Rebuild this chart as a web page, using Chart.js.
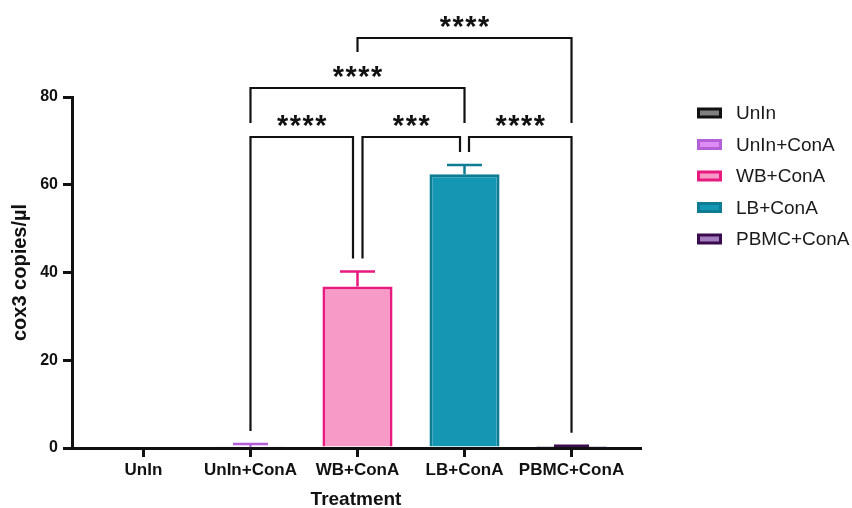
<!DOCTYPE html>
<html>
<head>
<meta charset="utf-8">
<script src="https://cdn.jsdelivr.net/npm/chart.js@4.4.0/dist/chart.umd.min.js"></script>
<style>
  html, body { margin: 0; padding: 0; background: #ffffff; }
  #wrap { width: 852px; height: 508px; }
</style>
</head>
<body>
<div id="wrap"><canvas id="c" width="852" height="508"></canvas></div>
<script>
// Treatment groups and cox3 copy numbers (mean and SD per group)
const categories = ['UnIn', 'UnIn+ConA', 'WB+ConA', 'LB+ConA', 'PBMC+ConA'];
const means = [0, 0.3, 36.8, 62.4, 0.2];
const sds = [0, 0.6, 3.4, 2.1, 0.3];
const yTickValues = [0, 20, 40, 60, 80];

// Pairwise significance (group indices and star labels)
const compareFrom = [1, 2, 3, 1, 2];
const compareTo = [2, 3, 4, 3, 4];
const compareStars = ['****', '***', '****', '****', '****'];

const fillColors = ['#808080', '#DC8CF4', '#F79AC7', '#1497B2', '#A47DBE'];
const borderColors = ['#111111', '#B45ED8', '#E8197F', '#0E7D93', '#3B0B50'];

const FONT = '"Liberation Sans", Arial, sans-serif';
const INK = '#111111';

// Upper error bars (mean + SD) drawn on top of each bar
const errorBars = {
  id: 'errorBars',
  afterDatasetsDraw(chart) {
    const ctx = chart.ctx;
    const ys = chart.scales.y;
    chart.data.datasets.forEach((ds, i) => {
      const bar = chart.getDatasetMeta(i).data[0];
      if (!bar || sds[i] <= 0) return;
      const top = ys.getPixelForValue(means[i]);
      const cap = ys.getPixelForValue(means[i] + sds[i]);
      ctx.save();
      ctx.strokeStyle = borderColors[i];
      ctx.lineWidth = 2.5;
      ctx.beginPath();
      ctx.moveTo(bar.x, top);
      ctx.lineTo(bar.x, cap);
      ctx.moveTo(bar.x - 17.5, cap);
      ctx.lineTo(bar.x + 17.5, cap);
      ctx.stroke();
      ctx.restore();
    });
  }
};

// Significance brackets above the bars
const brackets = {
  id: 'brackets',
  afterDraw(chart) {
    const ctx = chart.ctx;
    const xs = chart.scales.x, ys = chart.scales.y;
    const top = chart.chartArea.top;
    const levelY = [top + 40, top - 9, top - 59];
    const gap = 13;
    const capPx = i => ys.getPixelForValue(means[i] + sds[i]);
    // level, left inset, right inset, left leg end, right leg end
    const layout = [
      { level: 0, inL: 0, inR: -4.5, endL: capPx(1) - gap, endR: capPx(2) - gap },
      { level: 0, inL: 5, inR: -4.5, endL: capPx(2) - gap, endR: capPx(3) - gap },
      { level: 0, inL: 4.5, inR: 0, endL: capPx(3) - gap, endR: capPx(4) - gap },
      { level: 1, inL: 0, inR: 0, endL: levelY[0] - 14, endR: levelY[0] - 14 },
      { level: 2, inL: 0, inR: 0, endL: levelY[1] - 36, endR: levelY[0] - 14 }
    ];
    ctx.save();
    // size the asterisk so each glyph is about 11px wide
    ctx.font = 'bold 30px ' + FONT;
    const probe = ctx.measureText('*');
    const probeW = probe.actualBoundingBoxLeft + probe.actualBoundingBoxRight;
    const starSize = probeW > 0 ? 30 * 11.5 / probeW : 30;
    ctx.strokeStyle = INK;
    ctx.lineWidth = 2.2;
    ctx.lineCap = 'butt';
    layout.forEach((b, k) => {
      const x1 = xs.getPixelForValue(compareFrom[k]) + b.inL;
      const x2 = xs.getPixelForValue(compareTo[k]) + b.inR;
      const y = levelY[b.level];
      ctx.beginPath();
      ctx.moveTo(x1, b.endL);
      ctx.lineTo(x1, y);
      ctx.lineTo(x2, y);
      ctx.lineTo(x2, b.endR);
      ctx.stroke();
      // star label
      const stars = compareStars[k];
      ctx.fillStyle = INK;
      ctx.font = 'bold ' + starSize.toFixed(1) + 'px ' + FONT;
      ctx.textAlign = 'center';
      ctx.textBaseline = 'alphabetic';
      const m = ctx.measureText('*');
      const cy = y - 16;
      const base = cy + (m.actualBoundingBoxAscent - m.actualBoundingBoxDescent) / 2;
      const step = 12.8;
      const cx = (x1 + x2) / 2;
      for (let s = 0; s < stars.length; s++) {
        ctx.fillText('*', cx + (s - (stars.length - 1) / 2) * step, base);
      }
    });
    ctx.restore();
  }
};

// Legend on the right, one entry per group
const sideLegend = {
  id: 'sideLegend',
  afterDraw(chart) {
    const ctx = chart.ctx;
    ctx.save();
    chart.data.datasets.forEach((ds, i) => {
      const cy = 113 + i * 31.5;
      ctx.fillStyle = ds.borderColor;
      ctx.fillRect(697, cy - 5.5, 25, 11);
      ctx.fillStyle = ds.backgroundColor;
      ctx.fillRect(700, cy - 2.5, 19, 5);
      ctx.fillStyle = '#1a1a1a';
      ctx.font = '19px ' + FONT;
      ctx.textAlign = 'left';
      ctx.textBaseline = 'middle';
      ctx.fillText(ds.label, 736, cy + 1);
    });
    ctx.restore();
  }
};

Chart.defaults.font.family = FONT;

new Chart(document.getElementById('c'), {
  type: 'bar',
  data: {
    datasets: categories.map((name, i) => ({
      label: name,
      data: [{ x: i, y: means[i] }],
      backgroundColor: fillColors[i],
      borderColor: borderColors[i],
      borderWidth: 3,
      borderSkipped: 'start',
      grouped: false,
      barPercentage: 0.655,
      categoryPercentage: 1
    }))
  },
  options: {
    responsive: false,
    animation: false,
    devicePixelRatio: 1,
    layout: { padding: { top: 97, right: 212, bottom: 0, left: 0 } },
    plugins: { legend: { display: false }, tooltip: { enabled: false } },
    scales: {
      x: {
        type: 'linear',
        min: -0.668,
        max: 4.64,
        offset: false,
        z: 1,
        afterBuildTicks: s => { s.ticks = categories.map((_, i) => ({ value: i })); },
        afterFit: s => { s.height = 60; },
        ticks: {
          autoSkip: false,
          maxRotation: 0,
          padding: 3,
          color: INK,
          font: { size: 17, weight: 'bold' },
          callback: v => categories[v]
        },
        grid: { drawOnChartArea: false, offset: false, tickLength: 9, lineWidth: 3, color: INK },
        border: { display: true, width: 3, color: INK },
        title: {
          display: true, text: 'Treatment', color: INK,
          font: { size: 19, weight: 'bold', lineHeight: 0.9 },
          padding: { top: 0, bottom: 0 }
        }
      },
      y: {
        min: 0,
        max: 80,
        z: 1,
        afterBuildTicks: s => { s.ticks = yTickValues.map(v => ({ value: v })); },
        afterFit: s => { s.width = 72; },
        ticks: { color: INK, padding: 5, font: { size: 16, weight: 'bold' } },
        grid: { drawOnChartArea: false, tickLength: 9, lineWidth: 3, color: INK },
        border: { display: true, width: 3, color: INK },
        title: {
          display: true, text: 'cox3 copies/µl', color: INK,
          font: { size: 20, weight: 'bold', lineHeight: 1.2 },
          padding: { top: 8, bottom: 0 }
        }
      }
    }
  },
  plugins: [errorBars, brackets, sideLegend]
});
</script>
</body>
</html>
